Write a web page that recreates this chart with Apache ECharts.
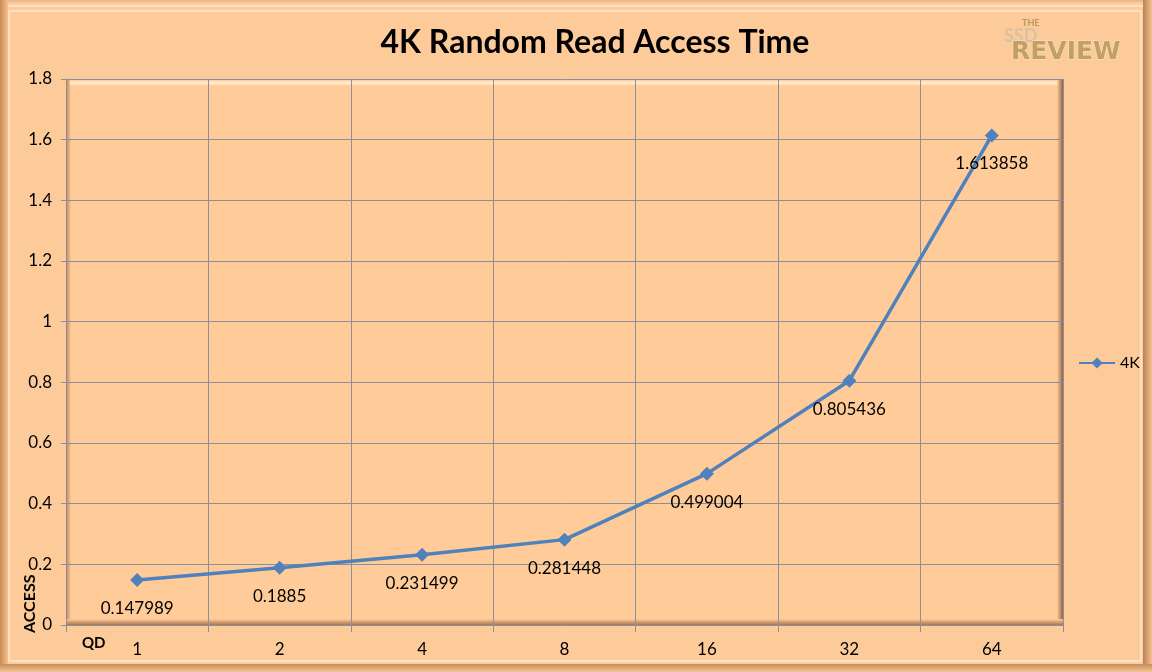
<!DOCTYPE html>
<html><head><meta charset="utf-8">
<script src="https://cdn.jsdelivr.net/npm/echarts@6/dist/echarts.min.js"></script>
<style>html,body{margin:0;padding:0;background:#fdca9a}#c{width:1152px;height:672px}</style>
</head><body><div id="c"></div>
<script>
const categories = ['1','2','4','8','16','32','64'];
const seriesName = '4K';
const values = [0.147989, 0.1885, 0.231499, 0.281448, 0.499004, 0.805436, 1.613858];
const yTicks = {min: 0, max: 1.8, interval: 0.2};
const titleText = '4K Random Read Access Time';

const chart = echarts.init(document.getElementById('c'));
const F = 'Lato, "Open Sans", sans-serif';
chart.setOption({
  backgroundColor: '#fdca9a',
  animation: false,
  title: {text: titleText, left: 590, top: 22, textAlign: 'center',
    textStyle: {fontFamily: F, fontSize: 32, fontWeight: 'bold', color: '#000'}},
  legend: {left: 1073, top: 350, itemWidth: 36, itemHeight: 14, itemGap: 6,
    textStyle: {fontFamily: F, fontSize: 16, color: '#000'}, data: [seriesName]},
  grid: {left: 66, right: 89, top: 79, bottom: 47, containLabel: false},
  xAxis: {type: 'category', data: categories, boundaryGap: true,
    axisLine: {lineStyle: {color: '#8a8f99', width: 1}},
    axisTick: {show: true, length: 7, lineStyle: {color: '#8a8f99'}},
    axisLabel: {fontFamily: F, fontSize: 17, color: '#000', margin: 16},
    splitLine: {show: true, lineStyle: {color: '#8a8f99', width: 1}}},
  yAxis: {type: 'value', min: yTicks.min, max: yTicks.max, interval: yTicks.interval,
    axisLine: {show: true, lineStyle: {color: '#8a8f99'}},
    axisTick: {show: true, length: 5, lineStyle: {color: '#8a8f99'}},
    axisLabel: {fontFamily: F, fontSize: 17, color: '#000', margin: 14,
      formatter: v => String(Math.round(v*10)/10)},
    splitLine: {show: true, lineStyle: {color: '#8a8f99', width: 1}}},
  series: [{name: seriesName, type: 'line', data: values, symbol: 'diamond', symbolSize: 14,
    lineStyle: {color: '#4f81bd', width: 3.5}, itemStyle: {color: '#4f81bd'},
    label: {show: true, position: 'bottom', distance: 13, fontFamily: F, fontSize: 17, color: '#000',
      formatter: p => String(p.value)}}],
  graphic: [
    // outer frame bevel
    {type: 'rect', shape: {x: 2, y: 2, width: 1148, height: 668}, style: {fill: 'none', stroke: '#e0a570', lineWidth: 4}, z: -1},
    {type: 'rect', shape: {x: 9, y: 11, width: 1132, height: 650}, style: {fill: 'none', stroke: '#fde2c4', lineWidth: 2}, z: -1},
    {type: 'rect', shape: {x: 0, y: 0, width: 1152, height: 7}, style: {fill: {type:'linear',x:0,y:0,x2:0,y2:1,colorStops:[{offset:0,color:'#f2b27a'},{offset:1,color:'#ffe6c8'}]}}, z: -1},
    {type: 'rect', shape: {x: 0, y: 0, width: 8, height: 672}, style: {fill: {type:'linear',x:0,y:0,x2:1,y2:0,colorStops:[{offset:0,color:'#c98a55'},{offset:1,color:'#f7c08e'}]}}, z: -1},
    {type: 'rect', shape: {x: 1143, y: 0, width: 9, height: 672}, style: {fill: {type:'linear',x:0,y:0,x2:1,y2:0,colorStops:[{offset:0,color:'#b98256'},{offset:1,color:'#f7c08e'}]}}, z: -1},
    {type: 'rect', shape: {x: 0, y: 664, width: 1152, height: 8}, style: {fill: {type:'linear',x:0,y:0,x2:0,y2:1,colorStops:[{offset:0,color:'#c58e5d'},{offset:1,color:'#f5c492'}]}}, z: -1},
    // plot area bevel
    {type: 'rect', shape: {x: 66, y: 79, width: 997, height: 546}, style: {fill: '#ffcb98'}, z: -2},
    {type: 'rect', shape: {x: 66, y: 80, width: 5, height: 545}, style: {fill: {type:'linear',x:0,y:0,x2:1,y2:0,colorStops:[{offset:0,color:'#b98256'},{offset:1,color:'#ffcb98'}]}}, z: -1},
    {type: 'rect', shape: {x: 70, y: 80, width: 993, height: 6}, style: {fill: {type:'linear',x:0,y:0,x2:0,y2:1,colorStops:[{offset:0,color:'#ffcb98'},{offset:0.5,color:'#fff0d8'},{offset:1,color:'#ffcb98'}]}}, z: -1},
    {type: 'rect', shape: {x: 1057, y: 80, width: 6, height: 545}, style: {fill: {type:'linear',x:0,y:0,x2:1,y2:0,colorStops:[{offset:0,color:'#ffcb98'},{offset:1,color:'#8f6245'}]}}, z: -1},
    {type: 'rect', shape: {x: 66, y: 619, width: 997, height: 6}, style: {fill: {type:'linear',x:0,y:0,x2:0,y2:1,colorStops:[{offset:0,color:'#ffcb98'},{offset:1,color:'#a87551'}]}}, z: -1},
    // axis names
    {type: 'text', x: 22, y: 633, rotation: Math.PI/2, style: {text: 'ACCESS', fontFamily: F, fontSize: 16, fontWeight: 'bold', fill: '#000'}, z: 5},
    {type: 'text', left: 82, top: 636, style: {text: 'QD', fontFamily: F, fontSize: 15, fontWeight: 'bold', fill: '#000'}, z: 5},
    // logo
    {type: 'text', x: 1022, y: 19, style: {text: 'THE', fontFamily: F, fontSize: 9, fontWeight: 'bold', fill: '#b89a5e'}, z: 5},
    {type: 'text', x: 1004, y: 27, style: {text: 'SSD', fontFamily: F, fontSize: 18, fontWeight: 'bold', fill: '#d8c2a6'}, z: 5},
    {type: 'text', x: 1011, y: 40, style: {text: 'REVIEW', fontFamily: '"DejaVu Sans"', fontSize: 25, fontWeight: 'bold', fill: '#c3a060', stroke: '#efe6d2', lineWidth: 1}, z: 5}
  ]
});
</script></body></html>
